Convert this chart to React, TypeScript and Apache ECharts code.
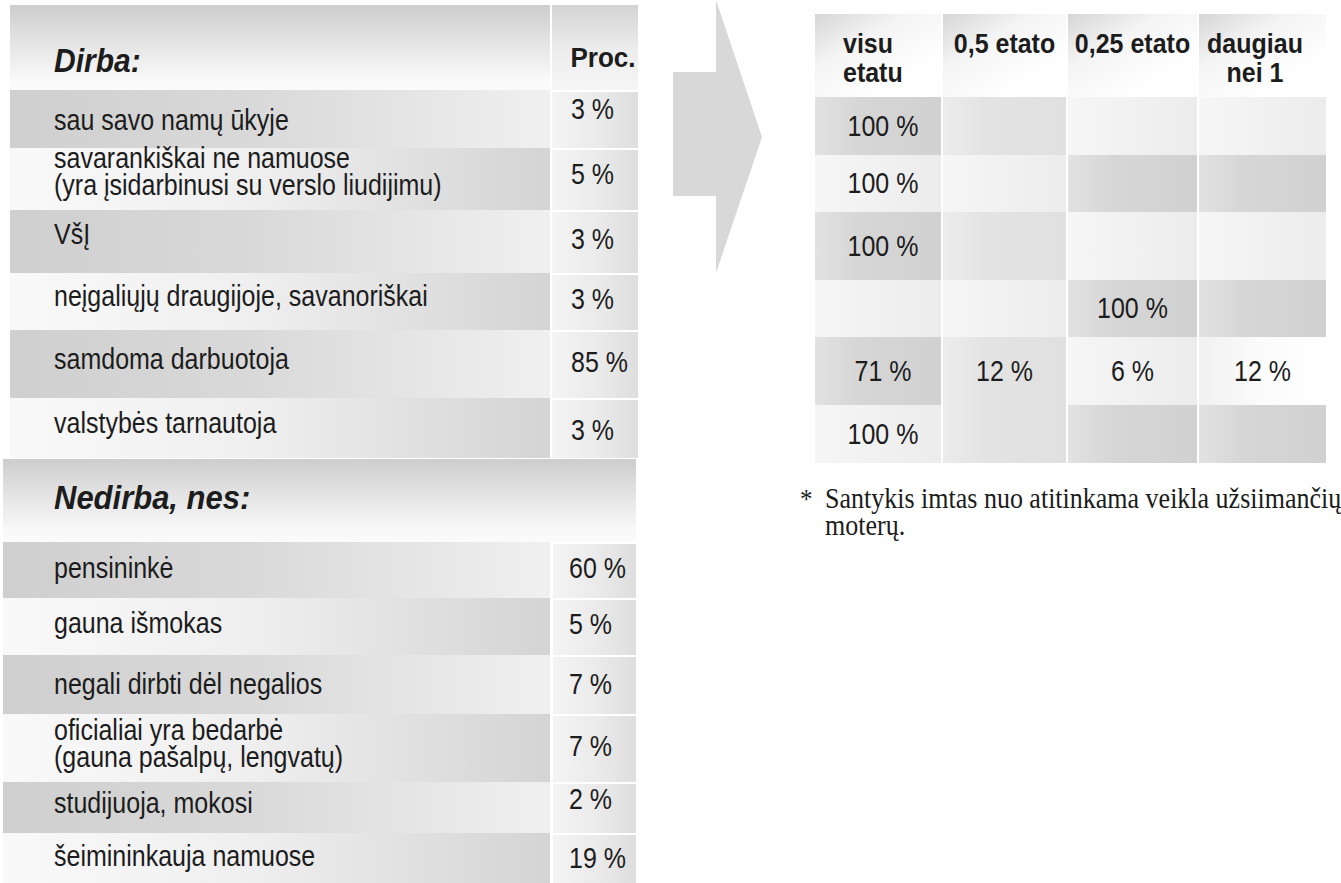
import React, { useEffect, useRef } from "react";
import * as echarts from "echarts";

// ---------- DATA ----------
const dirbaTitle = "Dirba:";
const procTitle = "Proc.";
const dirbaLabels = [
  "sau savo namų ūkyje",
  "savarankiškai ne namuose\n(yra įsidarbinusi su verslo liudijimu)",
  "VšĮ",
  "neįgaliųjų draugijoje, savanoriškai",
  "samdoma darbuotoja",
  "valstybės tarnautoja",
];
const dirbaValues = [3, 5, 3, 3, 85, 3];

const nedirbaTitle = "Nedirba, nes:";
const nedirbaLabels = [
  "pensininkė",
  "gauna išmokas",
  "negali dirbti dėl negalios",
  "oficialiai yra bedarbė\n(gauna pašalpų, lengvatų)",
  "studijuoja, mokosi",
  "šeimininkauja namuose",
];
const nedirbaValues = [60, 5, 7, 7, 2, 19];

const etatasHeaders = ["visu\netatu", "0,5 etato", "0,25 etato", "daugiau\nnei 1"];
const visuEtatu = [100, 100, 100, null, 71, 100];
const pusesEtato = [null, null, null, null, 12, null];
const ketvirtiesEtato = [null, null, null, 100, 6, null];
const daugiauNei1 = [null, null, null, null, 12, null];
const etatasColumns = [visuEtatu, pusesEtato, ketvirtiesEtato, daugiauNei1];

const footnoteMark = "*";
const footnoteText = "Santykis imtas nuo atitinkama veikla užsiimančių\nmoterų.";

// ---------- LAYOUT / STYLE ----------
const SANS = "'Liberation Sans', Arial, Helvetica, sans-serif";
const SERIF = "'Liberation Serif', 'Times New Roman', serif";
const TXT = "#1c1c1c";
const SY = 1.15; // vertical stretch of the sans texts

const dirbaRowBounds = [90, 148, 210, 273, 330, 398, 458];
const nedirbaRowBounds = [542, 598, 655, 714, 782, 833, 883];
const dirbaLabelDy = [1, -7, -7, -5, -5, -5];
const dirbaValueDy = [-10, -5, -2, -2, -2, 2];
const nedirbaLabelDy = [-2, -3, 0, -4, -4, -2];
const nedirbaValueDy = [-2, -2, 0, -2, -8, 0];

const rightColBounds = [[815, 941], [943, 1066], [1068, 1197], [1199, 1326]];
const rightRowBounds = [97, 155, 212, 280, 337, 405, 463];
// tone of each right cell: G = gray, g = mid gray, L = light, W = white
const rightTones = [
  ["G", "g", "L", "L"],
  ["L", "L", "G", "G"],
  ["G", "g", "L", "L"],
  ["L", "L", "G", "G"],
  ["G", "g", "L", "W"],
  ["L", "g", "G", "G"],
];

function lin(x2: number, y2: number, stops: [number, string][]) {
  return {
    type: "linear",
    x: 0,
    y: 0,
    x2,
    y2,
    colorStops: stops.map(([offset, color]) => ({ offset, color })),
  };
}

const grayLeft = lin(1, 0, [[0, "#cfcfcf"], [0.45, "#d9d9d9"], [1, "#f0f0f0"]]);
const grayRight = lin(1, 0, [[0, "#f9f9f9"], [0.45, "#efefef"], [1, "#d4d4d4"]]);
const procFill = lin(1, 0, [[0, "#f4f4f4"], [0.55, "#eaeaea"], [1, "#dedede"]]);
const headFill = lin(0, 1, [[0, "#cdcdcd"], [0.5, "#e7e7e7"], [0.85, "#f8f8f8"], [1, "#fbfbfb"]]);
const procHeadFill = lin(0, 1, [[0, "#d3d3d3"], [0.5, "#ececec"], [1, "#f6f6f6"]]);
const rightHeadFill = lin(0.7, 0.8, [[0, "#d6d6d6"], [0.45, "#f4f4f4"], [1, "#ffffff"]]);
const toneFill: Record<string, any> = {
  G: lin(1, 0, [[0, "#e2e2e2"], [0.35, "#d6d6d6"], [1, "#d1d1d1"]]),
  g: lin(1, 0, [[0, "#ececec"], [0.35, "#e3e3e3"], [1, "#e0e0e0"]]),
  L: lin(1, 0, [[0, "#f6f6f6"], [0.5, "#f1f1f1"], [1, "#ececec"]]),
  W: lin(1, 0, [[0, "#f1f1f1"], [0.5, "#fbfbfb"], [1, "#ffffff"]]),
};

function text(x: number, y: number, t: string, opts: any = {}) {
  const sy = opts.scaleY || SY;
  return {
    type: "text",
    x,
    y,
    scaleY: sy,
    silent: true,
    style: {
      text: t,
      fill: TXT,
      font: opts.font || `25px ${SANS}`,
      align: opts.align || "left",
      verticalAlign: "middle",
      lineHeight: (opts.lineHeight || 27) / sy,
    },
  };
}

function rect(x: number, y: number, w: number, h: number, fill: any) {
  return { type: "rect", silent: true, shape: { x, y, width: w, height: h }, style: { fill } };
}

function buildGraphic() {
  const els: any[] = [];
  // left table headers
  els.push(rect(10, 5, 540, 85, headFill));
  els.push(rect(552, 5, 86, 85, procHeadFill));
  els.push(text(54, 61, dirbaTitle, { font: `italic bold 30px ${SANS}`, scaleY: 1.08 }));
  els.push(text(603, 58, procTitle, { font: `bold 26px ${SANS}`, align: "center", scaleY: 1.08 }));

  dirbaLabels.forEach((lab, i) => {
    const y0 = dirbaRowBounds[i];
    const y1 = dirbaRowBounds[i + 1];
    const cy = (y0 + y1) / 2;
    els.push(rect(10, y0, 540, y1 - y0, i % 2 === 0 ? grayLeft : grayRight));
    els.push(rect(552, y0 + 2, 86, y1 - y0 - 2, procFill));
    els.push(text(54, cy + dirbaLabelDy[i], lab));
    els.push(text(571, cy + dirbaValueDy[i], `${dirbaValues[i]} %`));
  });

  els.push(rect(3, 459, 633, 83, headFill));
  els.push(text(54, 498, nedirbaTitle, { font: `italic bold 31px ${SANS}`, scaleY: 1.08 }));

  nedirbaLabels.forEach((lab, i) => {
    const y0 = nedirbaRowBounds[i];
    const y1 = nedirbaRowBounds[i + 1];
    const cy = (y0 + y1) / 2;
    els.push(rect(3, y0, 547, y1 - y0, i % 2 === 0 ? grayLeft : grayRight));
    els.push(rect(553, y0 + 2, 83, y1 - y0 - 2, procFill));
    els.push(text(54, cy + nedirbaLabelDy[i], lab));
    els.push(text(569, cy + nedirbaValueDy[i], `${nedirbaValues[i]} %`));
  });

  // arrow
  els.push({
    type: "polygon",
    silent: true,
    shape: {
      points: [
        [673, 72],
        [716, 72],
        [716, 0],
        [762, 137],
        [716, 273],
        [716, 196],
        [673, 196],
      ],
    },
    style: { fill: "#d8d8d8" },
  });

  // right table
  rightColBounds.forEach(([x0, x1], c) => {
    els.push(rect(x0, 14, x1 - x0, rightRowBounds[0] - 14, rightHeadFill));
    const h = etatasHeaders[c];
    const multi = h.includes("\n");
    const hf = `bold 25px ${SANS}`;
    if (c === 0) {
      els.push(text(843, multi ? 58.5 : 44, h, { font: hf, lineHeight: 29, scaleY: 1.1 }));
    } else if (c === 3) {
      els.push(text(1255, 58.5, h, { font: hf, align: "center", lineHeight: 29, scaleY: 1.1 }));
    } else {
      els.push(text((x0 + x1) / 2, 44, h, { font: hf, align: "center", scaleY: 1.1 }));
    }
    etatasColumns[c].forEach((v, r) => {
      const y0 = rightRowBounds[r];
      const y1 = rightRowBounds[r + 1];
      els.push(rect(x0, y0, x1 - x0, y1 - y0, toneFill[rightTones[r][c]]));
      if (v !== null && v !== undefined) {
        els.push(text((x0 + x1) / 2 + (c === 0 ? 5 : 0), (y0 + y1) / 2, `${v} %`, { align: "center" }));
      }
    });
  });

  // footnote
  els.push(text(800, 499, footnoteMark, { font: `25px ${SERIF}`, scaleY: 1.1 }));
  els.push(text(825, 512.5, footnoteText, { font: `26px ${SERIF}`, lineHeight: 27, scaleY: 1.1 }));
  return els;
}

export default function App() {
  const ref = useRef<HTMLDivElement>(null);
  useEffect(() => {
    if (!ref.current) return;
    const chart = echarts.init(ref.current, null, { renderer: "svg" });
    chart.setOption({
      animation: false,
      backgroundColor: "#ffffff",
      graphic: { elements: buildGraphic() },
    });
    return () => chart.dispose();
  }, []);
  return (
    <div
      ref={ref}
      style={{ position: "fixed", left: 0, top: 0, width: 1341, height: 883, background: "#fff" }}
    />
  );
}
